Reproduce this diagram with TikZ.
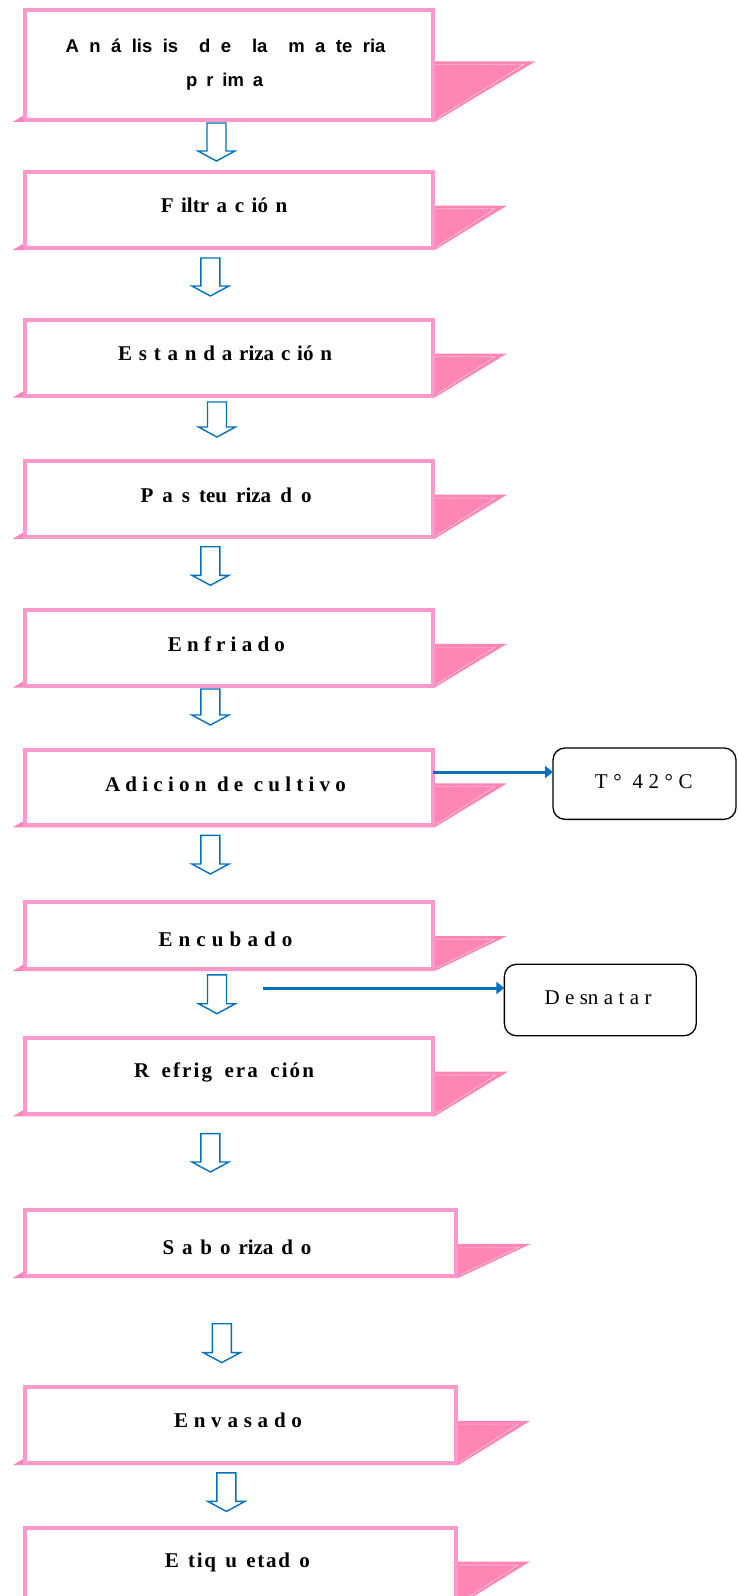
\documentclass[tikz,border=0pt]{standalone}
\usepackage{fontspec}
\usetikzlibrary{arrows.meta}
\newfontfamily\stepfont{Liberation Serif}
\newfontfamily\headfont{Liberation Sans}
\definecolor{boxpink}{RGB}{255,153,204}
\definecolor{shadowpink}{RGB}{255,133,181}
\definecolor{flowblue}{RGB}{0,112,192}

\tikzset{
  procnode/.style={draw=boxpink, line width=4pt, fill=white, rectangle, inner sep=0pt, outer sep=0pt},
  steptext/.style={anchor=base, inner sep=0pt, font=\stepfont\bfseries\fontsize{21}{25}\selectfont},
  headtext/.style={anchor=base, inner sep=0pt, font=\headfont\bfseries\fontsize{18.5}{22}\selectfont},
  notetext/.style={anchor=base, inner sep=0pt, font=\stepfont\fontsize{21}{25}\selectfont},
  notebox/.style={draw=black, line width=1.3pt, rounded corners=12pt, fill=white, inner sep=0pt, outer sep=0pt},
  hollowdown/.style={draw=flowblue, fill=white, line width=1.4pt, line join=miter},
  conn/.style={draw=flowblue, line width=3pt, -{Triangle[length=8pt,width=12pt]}},
}

% process box: name, left, top, right, bottom, top of the side flap, flap tip
\newcommand\procbox[7]{%
  \fill[shadowpink] ({#2-10},{-#5}) -- (#2,{-#5+6}) -- (#4,{-#5+6}) -- (#4,{-#6})
     -- (#7,{-#6}) -- (#4,{-#5}) -- cycle;
  \draw[white, line width=0.7pt, densely dotted] ({#4+1.5},{-#6-3.3}) -- ({#7-12},{-#6-3.3}) -- ({#4+1.5},{-#5+3});
  \node[procnode, minimum width={(#4-#2-4)*1pt}, minimum height={(#5-#3-4)*1pt}]
     (#1) at ({(#2+#4)/2},{-(#3+#5)/2}) {};
}
% hollow down arrow: centre x, top, tip
\newcommand\hollowstep[3]{%
  \draw[hollowdown] ({#1-9.5},{-#2}) -- ({#1+9.5},{-#2}) -- ({#1+9.5},{-#3+10})
    -- ({#1+18.5},{-#3+10}) -- (#1,{-#3}) -- ({#1-18.5},{-#3+10}) -- ({#1-9.5},{-#3+10}) -- cycle;
}

\begin{document}
\begin{tikzpicture}[x=1pt,y=1pt]
\useasboundingbox (0,0) rectangle (738,-1596);
\clip (0,0) rectangle (738,-1596);

\procbox{b1}{22.7}{8.3}{434.6}{121.9}{61.3}{535.5}
\procbox{b2}{22.7}{169.6}{434.6}{250}{205.5}{507}
\procbox{b3}{22.7}{317.7}{434.6}{397.6}{353.5}{507}
\procbox{b4}{22.7}{459}{434.6}{538.8}{494.7}{507}
\procbox{b5}{22.7}{608}{434.6}{687.6}{643.8}{507}
\procbox{b6}{22.7}{747.5}{434.6}{827.4}{783.3}{507}
\procbox{b7}{22.7}{899.7}{434.6}{971}{936}{507}
\procbox{b8}{22.7}{1036}{434.6}{1116.4}{1071.6}{508}
\procbox{b9}{22.7}{1208.3}{458}{1278}{1243.8}{531}
\procbox{b10}{22.7}{1385}{458}{1465.2}{1420.8}{530.3}
\procbox{b11}{22.7}{1526}{458}{1606}{1561.6}{530}

% step labels
\node[headtext] (t1a) at (225.5,-52) {\makebox[320pt][s]{A n á lis is\ \ d e\ \ la\ \ m a te ria}};
\node[headtext] (t1b) at (224.7,-86) {\makebox[77pt][s]{p r im a}};
\node[steptext] (t2) at (224,-212) {\makebox[126.5pt][s]{F iltr a c ió n}};
\node[steptext] (t3) at (225,-360.8) {\makebox[214pt][s]{E s t a n d a riza c ió n}};
\node[steptext] (t4) at (226,-502.6) {\makebox[171pt][s]{P a s teu riza d o}};
\node[steptext] (t5) at (226.4,-651.4) {\makebox[117pt][s]{E n f r i a d o}};
\node[steptext] (t6) at (225.5,-791.3) {\makebox[241pt][s]{A d i c i o n\ \ d e\ \ c u l t i v o}};
\node[steptext] (t7) at (225.5,-946) {\makebox[134pt][s]{E n c u b a d o}};
\node[steptext] (t8) at (224,-1077.4) {\addfontfeature{LetterSpace=10}\makebox[180pt][s]{R efrig era ción}};
\node[steptext] (t9) at (237,-1254) {\makebox[149pt][s]{S a b o riza d o}};
\node[steptext] (t10) at (238,-1427) {\makebox[128pt][s]{E n v a s a d o}};
\node[steptext] (t11) at (237.3,-1567.5) {\addfontfeature{LetterSpace=8}\makebox[145pt][s]{E tiq u etad o}};

% hollow arrows between the steps
\hollowstep{216.5}{123}{161}
\hollowstep{210.4}{258}{296}
\hollowstep{217}{402}{437}
\hollowstep{210.4}{546.7}{585.3}
\hollowstep{210.4}{689}{725}
\hollowstep{210.4}{835.3}{874}
\hollowstep{217}{974.8}{1013.7}
\hollowstep{210.4}{1133.6}{1172}
\hollowstep{221.8}{1323.7}{1362.6}
\hollowstep{226.4}{1472.8}{1511.4}

% side notes
\node[notebox, minimum width=183pt, minimum height=71.4pt] (tbox) at (644.5,-783.65) {};
\node[notetext] (ttemp) at (643.8,-788.3) {\makebox[97.7pt][s]{T °\ \ 4 2 ° C}};
\node[notebox, minimum width=191.9pt, minimum height=71.4pt] (dbox) at (600.3,-1000) {};
\node[notetext] (tdes) at (598,-1004.3) {\makebox[107pt][s]{D e sn a t a r}};

\draw[conn] (b6.east |- 0,-772) -- (tbox.west |- 0,-772);
\coordinate (dsrc) at (263.4,-988);
\draw[conn] (dsrc) -- (dbox.west |- dsrc);
\end{tikzpicture}
\end{document}
